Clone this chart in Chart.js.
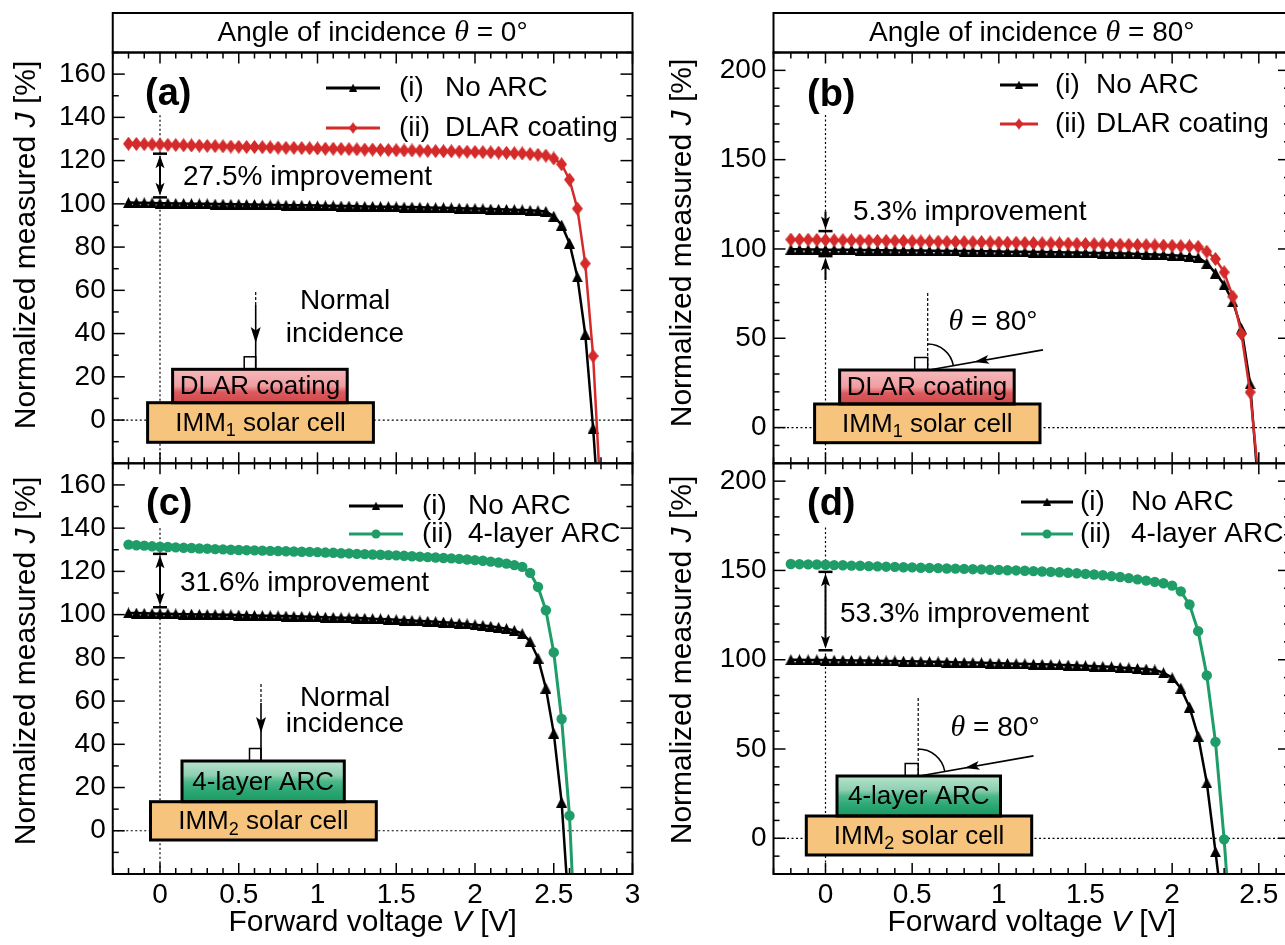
<!DOCTYPE html>
<html>
<head>
<meta charset="utf-8">
<title>Normalized measured J vs forward voltage</title>
<script src="https://cdn.jsdelivr.net/npm/chart.js@4.4.1/dist/chart.umd.min.js"></script>
<style>
  html, body { margin: 0; padding: 0; background: #fff; overflow: hidden; }
  #figure { position: relative; width: 1285px; height: 945px; overflow: hidden; background: #fff; }
  #figure canvas { position: absolute; }
</style>
</head>
<body>
<div id="figure">
  <canvas id="chartA" width="645" height="470" style="left:0px;top:0px"></canvas>
  <canvas id="chartC" width="645" height="490" style="left:0px;top:455px"></canvas>
  <canvas id="chartB" width="655" height="470" style="left:645px;top:0px"></canvas>
  <canvas id="chartD" width="655" height="490" style="left:645px;top:455px"></canvas>
</div>
<script>
// ===== DATA =====

// (a) theta = 0, DLAR coating
const voltA = [-0.2,-0.15,-0.1,-0.05,0,0.05,0.1,0.15,0.2,0.25,0.3,0.35,0.4,0.45,0.5,0.55,0.6,0.65,0.7,0.75,
  0.8,0.85,0.9,0.95,1,1.05,1.1,1.15,1.2,1.25,1.3,1.35,1.4,1.45,1.5,1.55,1.6,1.65,1.7,1.75,
  1.8,1.85,1.9,1.95,2,2.05,2.1,2.15,2.2,2.25,2.3,2.35,2.4,2.45,2.5,2.55,2.6,2.65,2.7,2.75];
const noArcA = [100.6,100.5,100.5,100.4,100.3,
  100.3,100.2,100.2,100.1,100.0,100.0,99.9,99.9,99.8,99.8,
  99.7,99.7,99.6,99.5,99.5,99.4,99.4,99.3,99.3,99.2,
  99.1,99.1,99.0,99.0,98.9,98.8,98.8,98.7,98.7,98.6,
  98.5,98.5,98.4,98.3,98.2,98.2,98.1,98.0,97.9,97.8,
  97.7,97.6,97.5,97.4,97.3,97.2,97.0,96.8,96.5,
  94.3,90.2,81.8,66.2,39.7,-3.8];
const dlarA = [127.8,127.7,127.6,127.5,127.4,
  127.3,127.2,127.1,127.0,126.9,126.8,126.7,126.6,126.5,126.4,
  126.3,126.3,126.2,126.1,126.0,125.9,125.9,125.8,125.7,125.6,
  125.5,125.5,125.4,125.3,125.2,125.1,125.1,125.0,124.9,124.8,
  124.7,124.7,124.6,124.5,124.4,124.3,124.3,124.2,124.1,124.0,
  123.9,123.8,123.7,123.6,123.4,123.3,123.0,122.7,122.3,
  121.0,118.3,111.2,97.8,72.4,29.6];
const tailNoArcA = [2.77, -25];   // where the curve leaves the frame
const tailDlarA = [2.79, -25];

// (c) theta = 0, 4-layer ARC
const voltC = [-0.2,-0.15,-0.1,-0.05,0,0.05,0.1,0.15,0.2,0.25,0.3,0.35,0.4,0.45,0.5,0.55,0.6,0.65,0.7,0.75,
  0.8,0.85,0.9,0.95,1,1.05,1.1,1.15,1.2,1.25,1.3,1.35,1.4,1.45,1.5,1.55,1.6,1.65,1.7,1.75,
  1.8,1.85,1.9,1.95,2,2.05,2.1,2.15,2.2,2.25,2.3,2.35,2.4,2.45,2.5,2.55,2.6];
const noArcC = [100.8,100.7,100.6,100.5,100.4,
  100.4,100.3,100.2,100.2,100.1,100.0,100.0,99.9,99.9,99.8,
  99.7,99.6,99.5,99.5,99.4,99.3,99.2,99.1,99.0,98.9,
  98.8,98.7,98.6,98.5,98.4,98.3,98.1,98.0,97.8,97.6,
  97.5,97.3,97.1,96.9,96.7,96.5,96.2,96.0,95.7,95.3,
  95.0,94.6,94.1,93.5,
  92.7,91.2,87.6,79.9,66.0,45.2,13.2];
const arcC = [132.4,132.1,131.9,131.6,131.4,
  131.3,131.1,130.9,130.8,130.6,130.5,130.3,130.2,130.0,129.9,
  129.8,129.7,129.6,129.5,129.4,129.3,129.2,129.1,129.0,128.9,
  128.7,128.6,128.4,128.3,128.1,128.0,127.8,127.7,127.5,127.4,
  127.2,127.0,126.8,126.6,126.4,126.2,126.0,125.8,125.5,125.2,
  124.9,124.5,124.1,123.6,122.9,122.1,
  119.3,112.8,102.0,82.5,51.7,7.0];
const tailNoArcC = [2.585, -25];
const tailArcC = [2.62, -25];

// (b) theta = 80, DLAR coating
const voltB = [-0.2,-0.15,-0.1,-0.05,0,0.05,0.1,0.15,0.2,0.25,0.3,0.35,0.4,0.45,0.5,0.55,0.6,0.65,0.7,0.75,
  0.8,0.85,0.9,0.95,1,1.05,1.1,1.15,1.2,1.25,1.3,1.35,1.4,1.45,1.5,1.55,1.6,1.65,1.7,1.75,
  1.8,1.85,1.9,1.95,2,2.05,2.1,2.15,2.2,2.25,2.3,2.35,2.4,2.45];
const noArcB = [99.8,99.8,99.7,99.7,99.6,
  99.6,99.5,99.5,99.4,99.4,99.3,99.3,99.2,99.2,99.1,
  99.1,99.0,99.0,98.9,98.9,98.8,98.8,98.7,98.7,98.6,
  98.5,98.5,98.4,98.3,98.3,98.2,98.1,98.0,98.0,97.9,
  97.8,97.7,97.6,97.5,97.4,97.2,97.1,96.9,96.7,96.5,
  96.2,95.8,95.2,
  92.0,86.5,80.0,70.5,55.5,24.5];
const dlarB = [105.3,105.2,105.2,105.1,105.0,
  104.9,104.9,104.8,104.7,104.7,104.6,104.5,104.5,104.4,104.3,
  104.2,104.2,104.1,104.0,104.0,103.9,103.8,103.8,103.7,103.6,
  103.5,103.5,103.4,103.3,103.2,103.2,103.1,103.0,102.9,102.8,
  102.7,102.6,102.5,102.4,102.3,102.2,102.1,102.0,101.9,101.8,
  101.6,101.5,101.2,
  98.5,94.4,87.0,73.3,52.4,19.8];
const tailNoArcB = [2.49, -25];
const tailDlarB = [2.495, -25];

// (d) theta = 80, 4-layer ARC
const voltD = [-0.2,-0.15,-0.1,-0.05,0,0.05,0.1,0.15,0.2,0.25,0.3,0.35,0.4,0.45,0.5,0.55,0.6,0.65,0.7,0.75,
  0.8,0.85,0.9,0.95,1,1.05,1.1,1.15,1.2,1.25,1.3,1.35,1.4,1.45,1.5,1.55,1.6,1.65,1.7,1.75,
  1.8,1.85,1.9,1.95,2,2.05,2.1,2.15,2.2,2.25,2.3];
const noArcD = [100.0,100.0,99.9,99.9,99.8,
  99.7,99.7,99.6,99.5,99.5,99.4,99.3,99.3,99.2,99.1,
  99.0,98.9,98.8,98.7,98.6,98.5,98.4,98.3,98.1,98.0,
  97.9,97.8,97.7,97.5,97.4,97.3,97.1,97.0,96.8,96.6,
  96.4,96.2,96.0,95.7,95.4,95.1,94.8,94.3,
  92.7,89.9,84.1,73.5,57.2,31.1,-7.5];
const arcD = [153.6,153.5,153.4,153.3,153.2,
  153.0,152.9,152.7,152.6,152.4,152.3,152.1,152.0,151.8,151.7,
  151.5,151.4,151.3,151.1,151.0,150.9,150.7,150.6,150.4,150.3,
  150.1,150.0,149.8,149.6,149.4,149.2,149.0,148.7,148.4,148.1,
  147.7,147.3,146.8,146.3,145.7,145.0,144.3,143.6,
  142.8,141.5,138.3,130.9,116.0,91.2,54.0,-0.6];
const tailNoArcD = [2.272, -25];
const tailArcD = [2.318, -25];

// tick labels
const xTicksLeft = [0, 0.5, 1, 1.5, 2, 2.5, 3];
const xTicksRight = [0, 0.5, 1, 1.5, 2, 2.5];
const yTicksLeft = [0, 20, 40, 60, 80, 100, 120, 140, 160];
const yTicksRight = [0, 50, 100, 150, 200];

// ===== STYLES =====

const FONT = '"Liberation Sans", Arial, Helvetica, sans-serif';
const SERIF = '"Liberation Serif", "Times New Roman", serif';
const RED = '#d42a2a';
const GREEN = '#1f9d68';
const ORANGE = '#f7c47e';
Chart.defaults.font.family = FONT;
Chart.defaults.color = '#000';

function markerImage(kind, color, w, h) {
  const c = document.createElement('canvas');
  c.width = w; c.height = h;
  const g = c.getContext('2d');
  g.fillStyle = color;
  g.beginPath();
  if (kind === 'diamond') {
    g.moveTo(w / 2, 0); g.lineTo(w, h / 2); g.lineTo(w / 2, h); g.lineTo(0, h / 2);
  } else {
    g.moveTo(w / 2, 0); g.lineTo(w, h); g.lineTo(0, h);
  }
  g.closePath();
  g.fill();
  return c;
}

const SERIES_STYLE = {
  noArc: { tag: '(i)', label: 'No ARC', color: '#000', width: 2.5, point: markerImage('triangle', '#000', 11, 11), radius: 5, order: 2 },
  dlar: { tag: '(ii)', label: 'DLAR coating', color: RED, width: 2.5, point: markerImage('diamond', RED, 11, 14), radius: 5, order: 1 },
  arc: { tag: '(ii)', label: '4-layer ARC', color: GREEN, width: 3, point: 'circle', radius: 5.2, order: 1 }
};

const DLAR_STOPS = [[0, '#f7b9bb'], [0.5, '#ef9ea1'], [0.68, '#db5a5d'], [1, '#d2494c']];
const ARC_STOPS = [[0, '#b9e3cf'], [0.35, '#8fd0b1'], [0.5, '#4cb888'], [0.75, '#2aa673'], [1, '#1b9a63']];

// ===== PANELS =====

const panels = [
  { key: 'a', canvas: 'chartA', ox: 0, oy: 0, W: 645, H: 470,
    area: { l: 112.75, t: 52.5, r: 632.5, b: 463.3 },
    xMax: 3, yMax: 170, yMajor: 20, xTicks: xTicksLeft, yTicks: yTicksLeft, showX: false,
    header: '0°', letter: '(a)', letterAt: [145, 95], titleAt: [27, 245], zeroTop: 141,
    series: [['noArc', voltA, noArcA, tailNoArcA], ['dlar', voltA, dlarA, tailDlarA]],
    legend: { line: [326, 380], mark: 353, t1: 399, t2: 445, rows: [88, 128] },
    gain: { type: 'double', lo: 103, hi: 123.2, text: '27.5% improvement', at: [183, 177] },
    stack: { coat: 'dlar', coatText: 'DLAR coating', top: [172.6, 369.3, 347.2, 402.7], bot: [147.6, 402.7, 373.4, 442.3], sub: '1' },
    inc: { type: 'normal', x: 255.7, dashTop: 292, solidTop: 305, tip: 343, text: [345, 301, 334] } },
  { key: 'c', canvas: 'chartC', ox: 0, oy: 455, W: 645, H: 490,
    area: { l: 112.75, t: 8.3, r: 632.5, b: 419 },
    xMax: 3, yMax: 170, yMajor: 20, xTicks: xTicksLeft, yTicks: yTicksLeft, showX: true,
    header: null, letter: '(c)', letterAt: [146, 505], titleAt: [27, 661], zeroTop: 140,
    series: [['noArc', voltC, noArcC, tailNoArcC], ['arc', voltC, arcC, tailArcC]],
    legend: { line: [349, 403], mark: 376, t1: 422, t2: 468, rows: [506, 534] },
    gain: { type: 'double', lo: 103.4, hi: 128.1, text: '31.6% improvement', at: [180, 583] },
    stack: { coat: 'arc', coatText: '4-layer ARC', top: [182, 761, 344.3, 801.7], bot: [150.5, 801.7, 376.3, 840], sub: '2' },
    inc: { type: 'normal', x: 261, dashTop: 684, solidTop: 703, tip: 733, text: [345, 698, 724] } },
  { key: 'b', canvas: 'chartB', ox: 645, oy: 0, W: 655, H: 470,
    area: { l: 128.5, t: 52.5, r: 645, b: 463.3 },
    xMax: 2.68, yMax: 210, yMajor: 50, xTicks: xTicksRight, yTicks: yTicksRight, showX: false,
    header: '80°', letter: '(b)', letterAt: [807, 96], titleAt: [683, 243], zeroTop: 175,
    series: [['noArc', voltB, noArcB, tailNoArcB], ['dlar', voltB, dlarB, tailDlarB]],
    legend: { line: [1000, 1038], mark: 1019, t1: 1055, t2: 1096, rows: [85, 124] },
    gain: { type: 'split', hi: 110, hiShaft: 121, lo: 96, loShaft: 82.6, text: '5.3% improvement', at: [853, 212] },
    stack: { coat: 'dlar', coatText: 'DLAR coating', top: [839.6, 370, 1014.2, 404], bot: [814.6, 404, 1040, 442.7], sub: '1' },
    inc: { type: 'oblique', x: 927.7, top: 293, r: 26, text: [948.5, 322] } },
  { key: 'd', canvas: 'chartD', ox: 645, oy: 455, W: 655, H: 490,
    area: { l: 128.5, t: 8.3, r: 645, b: 419 },
    xMax: 2.68, yMax: 210, yMajor: 50, xTicks: xTicksRight, yTicks: yTicksRight, showX: true,
    header: null, letter: '(d)', letterAt: [807, 505], titleAt: [683, 660], zeroTop: 174,
    series: [['noArc', voltD, noArcD, tailNoArcD], ['arc', voltD, arcD, tailArcD]],
    legend: { line: [1021, 1073], mark: 1047, t1: 1080, t2: 1131, rows: [502, 534] },
    gain: { type: 'double', lo: 105.3, hi: 149.2, text: '53.3% improvement', at: [840, 614] },
    stack: { coat: 'arc', coatText: '4-layer ARC', top: [837, 776, 1000.5, 816], bot: [806.3, 816, 1031.7, 855], sub: '2' },
    inc: { type: 'oblique', x: 918.2, top: 698, r: 27, text: [950.6, 728] } }
];

// ===== DRAW HELPERS =====

function seg(ctx, x1, y1, x2, y2) {
  ctx.beginPath(); ctx.moveTo(x1, y1); ctx.lineTo(x2, y2); ctx.stroke();
}

function arrowHead(ctx, tx, ty, ang, len, half) {
  const bx = tx - Math.cos(ang) * len, by = ty - Math.sin(ang) * len;
  const nx = -Math.sin(ang) * half, ny = Math.cos(ang) * half;
  ctx.beginPath();
  ctx.moveTo(tx, ty);
  ctx.lineTo(bx + nx, by + ny);
  ctx.lineTo(tx - Math.cos(ang) * len * 0.78, ty - Math.sin(ang) * len * 0.78);
  ctx.lineTo(bx - nx, by - ny);
  ctx.closePath();
  ctx.fill();
}

// text made of runs with their own font: [[text, font, dy], ...]
function rich(ctx, parts, x, y, align) {
  let w = 0;
  parts.forEach(p => { ctx.font = p[1]; w += ctx.measureText(p[0]).width; });
  let cx = align === 'center' ? x - w / 2 : (align === 'right' ? x - w : x);
  ctx.textAlign = 'left';
  parts.forEach(p => {
    ctx.font = p[1];
    ctx.fillText(p[0], cx, y + (p[2] || 0));
    cx += ctx.measureText(p[0]).width;
  });
}

function drawMarker(ctx, st, cx, cy) {
  if (st.point === 'circle') {
    ctx.fillStyle = st.color;
    ctx.beginPath(); ctx.arc(cx, cy, st.radius - 0.7, 0, Math.PI * 2); ctx.fill();
  } else {
    const w = st.point.width * 0.8, h = st.point.height * 0.8;
    ctx.drawImage(st.point, cx - w / 2, cy - h / 2, w, h);
  }
}

function drawStack(ctx, s) {
  const [x0, y0, x1, y1] = s.top;
  const [u0, v0, u1, v1] = s.bot;
  const gr = ctx.createLinearGradient(0, y0, 0, y1);
  (s.coat === 'dlar' ? DLAR_STOPS : ARC_STOPS).forEach(st => gr.addColorStop(st[0], st[1]));
  ctx.fillStyle = gr;
  ctx.fillRect(x0, y0, x1 - x0, y1 - y0);
  ctx.fillStyle = ORANGE;
  ctx.fillRect(u0, v0, u1 - u0, v1 - v0);
  ctx.strokeStyle = '#000';
  ctx.lineWidth = 3;
  ctx.strokeRect(x0, y0, x1 - x0, y1 - y0);
  ctx.strokeRect(u0, v0, u1 - u0, v1 - v0);
  ctx.fillStyle = '#000';
  ctx.textBaseline = 'middle';
  rich(ctx, [[s.coatText, '26px ' + FONT]], (x0 + x1) / 2, (y0 + y1) / 2 + 1, 'center');
  rich(ctx, [['IMM', '26px ' + FONT], [s.sub, '18px ' + FONT, 8], [' solar cell', '26px ' + FONT]],
    (u0 + u1) / 2, (v0 + v1) / 2 + 1, 'center');
}

function drawNormal(ctx, inc, boxTop) {
  const x = inc.x;
  ctx.strokeStyle = ctx.fillStyle = '#000';
  ctx.lineWidth = 1.2;
  ctx.setLineDash([3, 2]);
  seg(ctx, x, inc.dashTop, x, inc.solidTop);
  ctx.setLineDash([]);
  ctx.lineWidth = 1.6;
  seg(ctx, x, inc.solidTop, x, boxTop);
  arrowHead(ctx, x, inc.tip, Math.PI / 2, 16, 5);
  ctx.lineWidth = 1.5;
  ctx.strokeRect(x - 11.5, boxTop - 12.5, 11.5, 12.5);
  ctx.textBaseline = 'middle';
  rich(ctx, [['Normal', '28px ' + FONT]], inc.text[0], inc.text[1], 'center');
  rich(ctx, [['incidence', '28px ' + FONT]], inc.text[0], inc.text[2], 'center');
}

function drawOblique(ctx, inc, boxTop) {
  const nx = inc.x;
  const a = 10 * Math.PI / 180;
  ctx.strokeStyle = ctx.fillStyle = '#000';
  ctx.lineWidth = 1.2;
  ctx.setLineDash([3, 2]);
  seg(ctx, nx, inc.top, nx, boxTop);
  ctx.setLineDash([]);
  ctx.lineWidth = 1.5;
  ctx.strokeRect(nx - 13, boxTop - 12.5, 13, 12.5);
  ctx.beginPath();
  ctx.arc(nx, boxTop, inc.r, -Math.PI / 2, -a);
  ctx.stroke();
  const hx = nx + 4, hy = boxTop - 0.5, L = 113;
  ctx.lineWidth = 1.6;
  seg(ctx, hx, hy, hx + L * Math.cos(a), hy - L * Math.sin(a));
  arrowHead(ctx, hx + 43 * Math.cos(a), hy - 43 * Math.sin(a), Math.PI - a, 15, 4.5);
  ctx.textBaseline = 'middle';
  rich(ctx, [['θ', 'italic 30px ' + SERIF], [' = 80°', '28px ' + FONT]], inc.text[0], inc.text[1], 'left');
}

function drawGain(ctx, x, y, g) {
  const px = x.getPixelForValue(0);
  ctx.strokeStyle = ctx.fillStyle = '#000';
  const yh = y.getPixelForValue(g.hi), yl = y.getPixelForValue(g.lo);
  ctx.lineWidth = 2.5;
  seg(ctx, px - 7, yh, px + 7, yh);
  seg(ctx, px - 7, yl, px + 7, yl);
  ctx.lineWidth = 2;
  if (g.type === 'double') {
    seg(ctx, px, yh + 8, px, yl - 8);
    arrowHead(ctx, px, yh + 1.5, -Math.PI / 2, 13, 4.5);
    arrowHead(ctx, px, yl - 1.5, Math.PI / 2, 13, 4.5);
  } else {
    seg(ctx, px, y.getPixelForValue(g.hiShaft), px, yh - 8);
    arrowHead(ctx, px, yh - 1.5, Math.PI / 2, 13, 4.5);
    seg(ctx, px, yl + 8, px, y.getPixelForValue(g.loShaft));
    arrowHead(ctx, px, yl + 1.5, -Math.PI / 2, 13, 4.5);
  }
}

// ===== PANEL PLUGIN =====

function panelPlugin(p) {
  return {
    id: 'panel_' + p.key,
    beforeDatasetsDraw(chart) {
      const { ctx, chartArea: a, scales: { x, y } } = chart;
      ctx.save();
      ctx.strokeStyle = '#000';
      ctx.lineWidth = 1.2;
      ctx.setLineDash([2, 2.5]);
      const y0 = y.getPixelForValue(0), x0 = x.getPixelForValue(0);
      seg(ctx, a.left, y0, a.right, y0);
      seg(ctx, x0, y.getPixelForValue(p.zeroTop), x0, a.bottom);
      ctx.restore();
    },
    afterDatasetsDraw(chart) {
      const { ctx, scales: { x, y } } = chart;
      ctx.save();
      ctx.translate(-p.ox, -p.oy);
      drawStack(ctx, p.stack);
      if (p.inc.type === 'normal') drawNormal(ctx, p.inc, p.stack.top[1]);
      else drawOblique(ctx, p.inc, p.stack.top[1]);
      ctx.restore();

      ctx.save();
      drawGain(ctx, x, y, p.gain);
      ctx.restore();

      ctx.save();
      ctx.translate(-p.ox, -p.oy);
      ctx.fillStyle = '#000';
      ctx.textBaseline = 'middle';
      rich(ctx, [[p.gain.text, '28px ' + FONT]], p.gain.at[0], p.gain.at[1], 'left');
      rich(ctx, [[p.letter, 'bold 38px ' + FONT]], p.letterAt[0], p.letterAt[1], 'left');
      // legend
      p.series.forEach((s, i) => {
        const st = SERIES_STYLE[s[0]];
        const ry = p.legend.rows[i];
        ctx.strokeStyle = st.color;
        ctx.lineWidth = 3;
        seg(ctx, p.legend.line[0], ry, p.legend.line[1], ry);
        drawMarker(ctx, st, p.legend.mark, ry);
        ctx.fillStyle = '#000';
        rich(ctx, [[st.tag, '28px ' + FONT]], p.legend.t1, ry, 'left');
        rich(ctx, [[st.label, '28px ' + FONT]], p.legend.t2, ry, 'left');
      });
      ctx.restore();
    },
    afterDraw(chart) {
      const { ctx, chartArea: a, scales: { x, y } } = chart;
      ctx.save();
      ctx.strokeStyle = ctx.fillStyle = '#000';
      // frame
      ctx.lineWidth = 2;
      ctx.strokeRect(a.left, a.top, a.right - a.left, a.bottom - a.top);
      // inward ticks on all four sides
      ctx.lineWidth = 1.5;
      const nx = Math.floor(p.xMax * 10 + 0.001);
      for (let k = -3; k <= nx; k++) {
        const px = x.getPixelForValue(k / 10);
        const L = k % 5 === 0 ? 11 : 6;
        seg(ctx, px, a.bottom, px, a.bottom - L);
        seg(ctx, px, a.top, px, a.top + L);
      }
      for (let v = -20; v <= p.yMax; v += 10) {
        const py = y.getPixelForValue(v);
        const L = v % p.yMajor === 0 ? 12 : 6;
        seg(ctx, a.left, py, a.left + L, py);
        seg(ctx, a.right, py, a.right - L, py);
      }
      ctx.textBaseline = 'middle';
      // header box
      if (p.header) {
        ctx.lineWidth = 2;
        const top = 13 - p.oy;
        ctx.strokeRect(a.left, top, a.right - a.left, a.top - top);
        rich(ctx, [['Angle of incidence ', '28px ' + FONT], ['θ', 'italic 30px ' + SERIF], [' = ' + p.header, '28px ' + FONT]],
          (a.left + a.right) / 2, 33 - p.oy, 'center');
      }
      // x title
      if (p.showX) {
        rich(ctx, [['Forward voltage ', '30px ' + FONT], ['V', 'italic 30px ' + FONT], [' [V]', '30px ' + FONT]],
          (a.left + a.right) / 2, 923 - p.oy, 'center');
      }
      // y title
      ctx.translate(p.titleAt[0] - p.ox, p.titleAt[1] - p.oy);
      ctx.rotate(-Math.PI / 2);
      rich(ctx, [['Normalized measured ', '30px ' + FONT], ['J', 'italic 30px ' + FONT], [' [%]', '30px ' + FONT]], 0, 0, 'center');
      ctx.restore();
    }
  };
}

// ===== BUILD CHARTS =====

function makeDataset(kind, volts, j, tail) {
  const st = SERIES_STYLE[kind];
  const pts = j.map((v, i) => ({ x: volts[i], y: v }));
  pts.push({ x: tail[0], y: tail[1] });
  const last = pts.length - 1;
  return {
    label: st.label,
    data: pts,
    borderColor: st.color,
    backgroundColor: st.color,
    borderWidth: st.width,
    pointStyle: st.point,
    pointBackgroundColor: st.color,
    pointBorderWidth: 0,
    pointRadius: c => (c.dataIndex === last ? 0 : st.radius),
    tension: 0,
    order: st.order
  };
}

panels.forEach(p => {
  const a = p.area;
  new Chart(document.getElementById(p.canvas), {
    type: 'line',
    data: { datasets: p.series.map(s => makeDataset(s[0], s[1], s[2], s[3])) },
    options: {
      responsive: false,
      animation: false,
      devicePixelRatio: 1,
      events: [],
      layout: { padding: { top: a.t, right: p.W - a.r, left: 0, bottom: 0 } },
      plugins: { legend: { display: false }, tooltip: { enabled: false } },
      scales: {
        x: {
          type: 'linear', position: 'bottom', min: -0.3, max: p.xMax,
          grid: { display: false, drawTicks: false },
          border: { display: false },
          ticks: { display: p.showX, font: { size: 28 }, color: '#000', padding: 4, maxRotation: 0,
            callback: v => String(v) },
          afterBuildTicks: s => { s.ticks = p.xTicks.map(v => ({ value: v })); },
          afterFit: s => { s.height = p.H - a.b; s.paddingLeft = 0; s.paddingRight = 0; }
        },
        y: {
          type: 'linear', position: 'left', min: -20, max: p.yMax,
          grid: { display: false, drawTicks: false },
          border: { display: false },
          ticks: { font: { size: 28 }, color: '#000', padding: 7, callback: v => String(v) },
          afterBuildTicks: s => { s.ticks = p.yTicks.map(v => ({ value: v })); },
          afterFit: s => { s.width = a.l; s.paddingTop = 0; s.paddingBottom = 0; }
        }
      }
    },
    plugins: [panelPlugin(p)]
  });
});
</script>
</body>
</html>
